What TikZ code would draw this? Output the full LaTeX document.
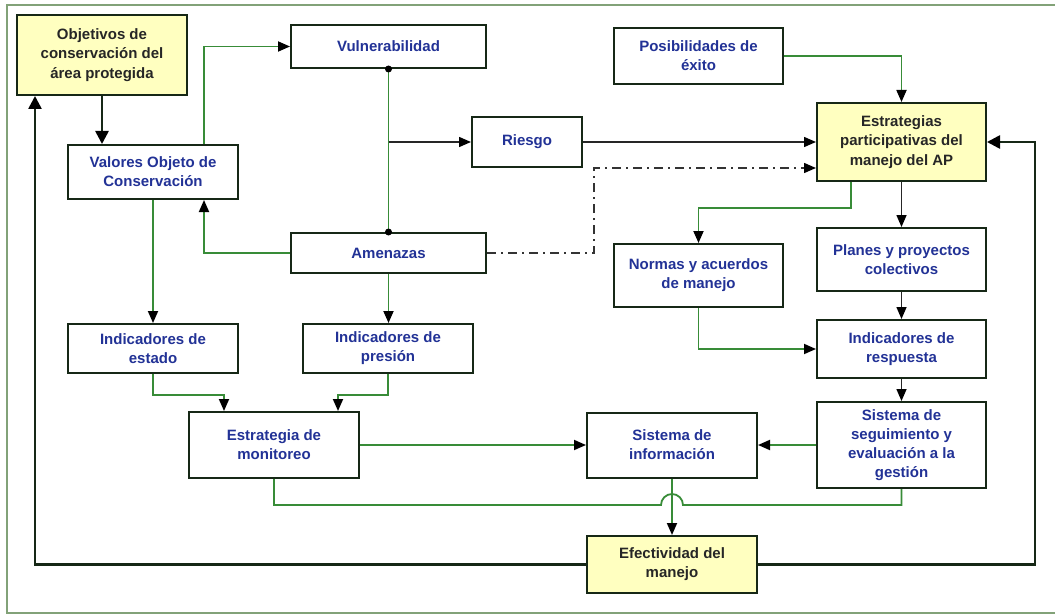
\documentclass[tikz,border=0pt]{standalone}
\usepackage{fontspec}
\setmainfont{Liberation Sans}
\usetikzlibrary{arrows.meta,calc}

\definecolor{linkgreen}{RGB}{56,140,56}
\definecolor{edgedark}{RGB}{22,40,22}
\definecolor{txtblue}{RGB}{34,50,150}
\definecolor{keyyellow}{RGB}{255,255,192}
\definecolor{framegreen}{RGB}{130,162,120}

\begin{document}
\begin{tikzpicture}[x=1pt, y=-1pt,
    box/.style={draw=edgedark, line width=2pt, fill=white, text=txtblue,
      inner sep=0pt, align=center, minimum width=170pt,
      font=\fontsize{15}{19.2}\selectfont\bfseries},
    keybox/.style={box, fill=keyyellow, text=black!85},
    tip/.style={-{Triangle[length=12pt,width=10pt,black]}},
    link/.style={draw=linkgreen, line width=1.8pt},
    blink/.style={draw=black!85, line width=1.5pt},
    heavy/.style={draw=edgedark, line width=2.6pt, -{Triangle[length=13pt,width=13pt,black]}},
    dashdot/.style={draw=black!80, line width=1.5pt, dash pattern=on 9pt off 5pt on 2pt off 5pt}]
  \useasboundingbox (0,0) rectangle (1055,615);
  %\draw [dotted] (0,0) grid[step=50] (1055,615);
  \draw [framegreen, line width=1.5pt] (7,5) rectangle (1070,613);

  \node [keybox, minimum height=80pt]               (obj) at ( 102.0,  55.0) {Objetivos de\\conservación del\\área protegida};
  \node [box, minimum height=54pt]                  (val) at ( 153.0, 172.0) {Valores Objeto de\\Conservación};
  \node [box, minimum width=195pt, minimum height=43pt] (vul) at ( 388.5,  46.5) {Vulnerabilidad};
  \node [box, minimum width=110pt, minimum height=50pt] (rie) at ( 527.0, 142.0) {Riesgo};
  \node [box, minimum width=195pt, minimum height=40pt] (ame) at ( 388.5, 253.0) {Amenazas};
  \node [box, minimum width=169pt, minimum height=56pt] (pos) at ( 698.5,  56.0) {Posibilidades de\\éxito};
  \node [keybox, minimum width=169pt, minimum height=78pt] (epa) at ( 901.5, 142.0) {Estrategias\\participativas del\\manejo del AP};
  \node [box, minimum width=169pt, minimum height=63pt] (nor) at ( 698.5, 275.5) {Normas y acuerdos\\de manejo};
  \node [box, minimum width=169pt, minimum height=63pt] (pla) at ( 901.5, 259.5) {Planes y proyectos\\colectivos};
  \node [box, minimum height=49pt]                  (ies) at ( 153.0, 348.5) {Indicadores de\\estado};
  \node [box, minimum height=49pt]                  (ipr) at ( 388.0, 348.5) {Indicadores de\\presión};
  \node [box, minimum height=66pt]                  (mon) at ( 274.0, 445.0) {Estrategia de\\monitoreo};
  \node [box, minimum width=169pt, minimum height=58pt] (ire) at ( 901.5, 349.0) {Indicadores de\\respuesta};
  \node [box, minimum width=169pt, minimum height=86pt] (seg) at ( 901.5, 445.0) {Sistema de\\seguimiento y\\evaluación a la\\gestión};
  \node [box, minimum height=65pt]                  (inf) at ( 672.0, 445.0) {Sistema de\\información};
  \node [keybox, minimum height=57pt]               (efe) at ( 672.0, 564.5) {Efectividad del\\manejo};

  % bend points
  \coordinate (cv) at ( 204, 0);
  \coordinate (ce) at ( 224, 395);
  \coordinate (cp) at ( 338, 395);
  \coordinate (cd) at ( 594, 168);
  \coordinate (cn) at ( 851, 208);
  \coordinate (ch) at ( 661, 505);
  \coordinate (lb) at (  35, 0);
  \coordinate (rb) at (1035, 0);

  % left part
  \draw [heavy] (obj.south) -- (obj.south |- val.north);
  \draw [link, tip] (val.north -| cv) |- (vul.west);
  \draw [link] (vul.south) -- (ame.north);
  \fill [black] (vul.south) circle[radius=3.5pt] (ame.north) circle[radius=3.5pt];
  \draw [blink, tip] (vul.south |- rie.west) -- (rie.west);
  \draw [blink, tip] (rie.east) -- (epa.west);
  \draw [dashdot, tip] (ame.east) -| (cd) -- (cd -| epa.west);
  \draw [link, tip] (ame.west) -| (cv |- val.south);
  \draw [link, tip] (val.south) -- (ies.north);
  \draw [link, tip] (ame.south) -- (ame.south |- ipr.north);
  \draw [link, tip] (ies.south) |- (ce) -- (ce |- mon.north);
  \draw [link, tip] (ipr.south) |- (cp) -- (cp |- mon.north);
  \draw [link, tip] (mon.east) -- (inf.west);
  \draw [link] (mon.south) |- (ch) arc[start angle=180, delta angle=-180, radius=11pt] -| (seg.south);
  \draw [link, tip] (inf.south) -- (efe.north);

  % right part
  \draw [link, tip] (pos.east) -| (epa.north);
  \draw [blink, tip] (epa.south) -- (pla.north);
  \draw [link, tip] (epa.south -| cn) -- (cn) -| (nor.north);
  \draw [blink, tip] (pla.south) -- (ire.north);
  \draw [link, tip] (nor.south) |- (ire.west);
  \draw [blink, tip] (ire.south) -- (seg.north);
  \draw [link, tip] (seg.west) -- (inf.east);

  % feedback loops
  \draw [heavy] (efe.west) -| (lb |- obj.south);
  \draw [heavy] (efe.east) -| (rb |- epa.east) -- (epa.east);
\end{tikzpicture}
\end{document}
